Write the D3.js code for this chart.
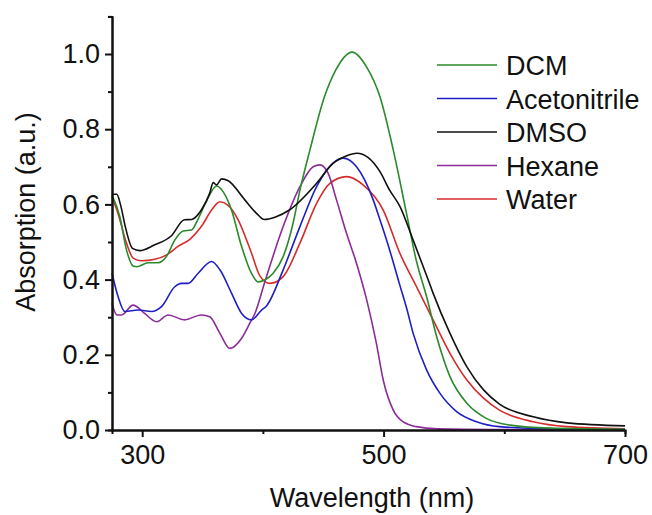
<!DOCTYPE html>
<html>
<head>
<meta charset="utf-8">
<script src="https://cdn.jsdelivr.net/npm/d3@7/dist/d3.min.js"></script>
<style>
  html, body { margin: 0; padding: 0; background: #fff; }
  svg { display: block; font-family: "Liberation Sans", Arial, Helvetica, sans-serif; }
</style>
</head>
<body>
<svg id="chart" width="652" height="515"></svg>
<script>
// UV-Vis absorption spectra of the dye in five solvents
const seriesNames = ["DCM", "Acetonitrile", "DMSO", "Hexane", "Water"];
const seriesColors = ["#2b8a2b", "#1f1fc4", "#111111", "#8b2c98", "#d62b2b"];

// wavelength (nm) / absorption (a.u.) pairs for each solvent
const dcmWl = [275, 281.5, 287, 292.5, 295.5, 305, 313, 320, 327, 334, 341, 346, 355, 361.5, 367, 374, 382, 390.5, 396, 401.5, 408.5, 416.8, 425, 430.7, 439, 451, 460, 474, 486, 497, 508, 519, 527, 535.6, 544, 555, 569, 585, 605, 638, 700];
const dcmAbs = [0.625, 0.567, 0.479, 0.436, 0.434, 0.445, 0.445, 0.461, 0.505, 0.529, 0.532, 0.559, 0.620, 0.649, 0.634, 0.585, 0.492, 0.417, 0.394, 0.399, 0.417, 0.461, 0.550, 0.638, 0.745, 0.886, 0.955, 1.005, 0.965, 0.886, 0.745, 0.576, 0.452, 0.355, 0.248, 0.142, 0.071, 0.031, 0.013, 0.005, 0.002];

const acnWl = [275, 280, 285.7, 296.7, 307.8, 316, 327, 332.6, 338, 346.4, 357.5, 364.4, 374, 382.4, 390.6, 398.9, 403, 416.8, 430.7, 444.5, 458, 466.5, 477.6, 491.4, 497, 505, 513, 519, 524.5, 535.6, 546.6, 560.5, 577, 596, 640, 700];
const acnAbs = [0.417, 0.355, 0.315, 0.319, 0.315, 0.328, 0.381, 0.390, 0.390, 0.417, 0.448, 0.426, 0.364, 0.310, 0.293, 0.319, 0.330, 0.426, 0.541, 0.647, 0.709, 0.723, 0.700, 0.612, 0.559, 0.479, 0.390, 0.325, 0.257, 0.160, 0.098, 0.049, 0.022, 0.009, 0.003, 0.001];

const dmsoWl = [275, 279, 282, 286, 292, 298, 310, 324, 335, 341, 349, 356, 358.8, 361.6, 365.8, 371.3, 385, 396, 401, 410, 422, 444.5, 458, 469, 478, 487, 497, 505, 513.5, 524.5, 537, 541, 555, 569, 583, 596, 624, 652, 700];
const dmsoAbs = [0.627, 0.627, 0.600, 0.541, 0.483, 0.477, 0.492, 0.516, 0.559, 0.560, 0.585, 0.630, 0.658, 0.652, 0.668, 0.663, 0.612, 0.572, 0.560, 0.566, 0.585, 0.656, 0.709, 0.729, 0.736, 0.725, 0.687, 0.638, 0.595, 0.505, 0.399, 0.364, 0.257, 0.168, 0.106, 0.069, 0.035, 0.019, 0.011];

const hexWl = [275, 279, 283, 292.5, 302, 312, 321.5, 335, 349, 356, 364.4, 372.7, 382.4, 389.2, 393.4, 401.7, 416.8, 430.7, 441.7, 447.2, 454, 461, 469.3, 477.6, 486, 494, 499.7, 508, 516, 527, 545, 600, 700];
const hexAbs = [0.337, 0.306, 0.306, 0.332, 0.310, 0.288, 0.306, 0.293, 0.306, 0.301, 0.257, 0.217, 0.244, 0.284, 0.310, 0.395, 0.541, 0.647, 0.700, 0.705, 0.683, 0.612, 0.523, 0.443, 0.346, 0.231, 0.133, 0.053, 0.022, 0.009, 0.003, 0.001, 0.0];

const waterWl = [275, 280, 287, 292.5, 299.5, 310.5, 320, 330, 339.5, 349, 357.5, 364.4, 371, 379.5, 390.6, 397.5, 405.8, 416.8, 430.7, 444.5, 455.5, 469.3, 483, 499.7, 513.5, 527.3, 541, 555, 569, 583, 596, 624, 652, 700];
const waterAbs = [0.620, 0.576, 0.497, 0.457, 0.450, 0.454, 0.465, 0.489, 0.507, 0.541, 0.585, 0.607, 0.598, 0.559, 0.470, 0.410, 0.390, 0.408, 0.497, 0.603, 0.656, 0.674, 0.652, 0.585, 0.470, 0.381, 0.293, 0.204, 0.133, 0.084, 0.053, 0.022, 0.009, 0.003];

const xMajorTicks = [300, 500, 700];
const xMinorTicks = [400, 600];
const yMajorTicks = [0.0, 0.2, 0.4, 0.6, 0.8, 1.0];
const yMinorTicks = [0.1, 0.3, 0.5, 0.7, 0.9, 1.1];

const xLabel = "Wavelength (nm)";
const yLabel = "Absorption (a.u.)";

const seriesWl = [dcmWl, acnWl, dmsoWl, hexWl, waterWl];
const seriesAbs = [dcmAbs, acnAbs, dmsoAbs, hexAbs, waterAbs];

const svg = d3.select("#chart");
const plotLeft = 112, plotRight = 625, plotTop = 16.4, plotBottom = 430;

const x = d3.scaleLinear().domain([275, 700]).range([plotLeft, plotRight]);
const y = d3.scaleLinear().domain([0, 1.1]).range([plotBottom, plotTop]);

const fontSize = 27;

// spectra
const line = d3.line()
  .x(d => x(d[0]))
  .y(d => y(d[1]))
  .curve(d3.curveMonotoneX);

const drawOrder = [4, 3, 1, 0, 2];
drawOrder.forEach(i => {
  const pts = seriesWl[i].map((w, k) => [w, seriesAbs[i][k]]);
  svg.append("path")
    .datum(pts)
    .attr("d", line)
    .attr("fill", "none")
    .attr("stroke", seriesColors[i])
    .attr("stroke-width", 1.6)
    .attr("stroke-linejoin", "round");
});

// axes
function styleAxis(g) {
  g.select(".domain").attr("stroke", "#111").attr("stroke-width", 2);
  g.selectAll(".tick line").attr("stroke", "#111").attr("stroke-width", 2);
  g.selectAll(".tick text")
    .attr("fill", "#111")
    .attr("font-size", fontSize)
    .attr("font-family", "'Liberation Sans', Arial, sans-serif");
}

const xMinor = svg.append("g")
  .attr("transform", `translate(0,${plotBottom})`)
  .call(d3.axisBottom(x).tickValues(xMinorTicks).tickSize(4).tickFormat(""));
styleAxis(xMinor);

const xAxis = svg.append("g")
  .attr("transform", `translate(0,${plotBottom})`)
  .call(d3.axisBottom(x).tickValues(xMajorTicks).tickSize(7).tickSizeOuter(0).tickPadding(8).tickFormat(d3.format("d")));
styleAxis(xAxis);

const yMinor = svg.append("g")
  .attr("transform", `translate(${plotLeft},0)`)
  .call(d3.axisLeft(y).tickValues(yMinorTicks).tickSize(4).tickFormat(""));
styleAxis(yMinor);

const yAxis = svg.append("g")
  .attr("transform", `translate(${plotLeft},0)`)
  .call(d3.axisLeft(y).tickValues(yMajorTicks).tickSize(7).tickSizeOuter(0).tickPadding(5).tickFormat(d3.format(".1f")));
styleAxis(yAxis);

// axis titles
svg.append("text")
  .attr("x", 372)
  .attr("y", 507)
  .attr("text-anchor", "middle")
  .attr("font-size", fontSize)
  .attr("fill", "#111")
  .text(xLabel);

svg.append("text")
  .attr("transform", `translate(35,212) rotate(-90)`)
  .attr("text-anchor", "middle")
  .attr("font-size", fontSize)
  .attr("fill", "#111")
  .text(yLabel);

// legend
const legend = svg.append("g");
seriesNames.forEach((name, i) => {
  const ly = 65 + i * 33.5;
  legend.append("line")
    .attr("x1", 437).attr("x2", 497)
    .attr("y1", ly).attr("y2", ly)
    .attr("stroke", seriesColors[i])
    .attr("stroke-width", 1.6);
  legend.append("text")
    .attr("x", 506)
    .attr("y", ly + 10)
    .attr("font-size", fontSize)
    .attr("fill", "#111")
    .text(name);
});
</script>
</body>
</html>
